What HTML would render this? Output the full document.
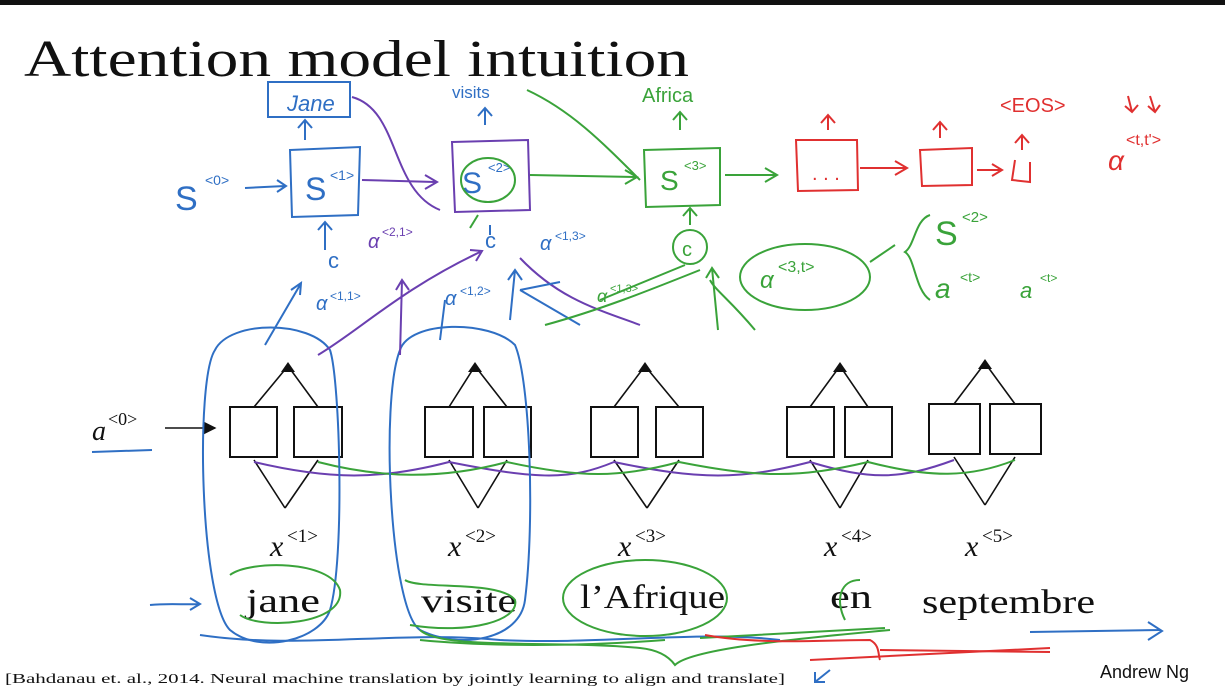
<!DOCTYPE html>
<html><head><meta charset="utf-8"><style>
html,body{margin:0;padding:0;background:#fff;}
svg{display:block}
</style></head><body>
<svg width="1225" height="689" viewBox="0 0 1225 689" xmlns="http://www.w3.org/2000/svg">
<rect x="0" y="0" width="1225" height="689" fill="#fff"/>
<rect x="0" y="0" width="1225" height="5" fill="#111"/>
<text x="24" y="76" font-family="Liberation Serif, serif" font-size="52" fill="#111" textLength="665" lengthAdjust="spacingAndGlyphs">Attention model intuition</text>

<defs>
<marker id="ab" markerWidth="8" markerHeight="8" refX="7" refY="4" orient="auto"><path d="M0,0 L8,4 L0,8 z" fill="#111"/></marker>
</defs>

<g fill="none" stroke="#111" stroke-width="2">
<rect x="230" y="407" width="47" height="50"/><rect x="294" y="407" width="48" height="50"/>
<rect x="425" y="407" width="48" height="50"/><rect x="484" y="407" width="47" height="50"/>
<rect x="591" y="407" width="47" height="50"/><rect x="656" y="407" width="47" height="50"/>
<rect x="787" y="407" width="47" height="50"/><rect x="845" y="407" width="47" height="50"/>
<rect x="929" y="404" width="51" height="50"/><rect x="990" y="404" width="51" height="50"/>
</g>
<g stroke="#111" stroke-width="1.6" fill="none">
<path d="M254 407 L288 366 M318 407 L288 366"/>
<path d="M449 407 L475 366 M507 407 L475 366"/>
<path d="M614 407 L645 366 M679 407 L645 366"/>
<path d="M810 407 L840 366 M868 407 L840 366"/>
<path d="M954 404 L985 363 M1015 404 L985 363"/>
<path d="M285 508 L254 460 M285 508 L318 460"/>
<path d="M478 508 L449 460 M478 508 L507 460"/>
<path d="M647 508 L614 460 M647 508 L679 460"/>
<path d="M840 508 L810 460 M840 508 L868 460"/>
<path d="M985 505 L954 457 M985 505 L1015 457"/>
<path d="M165 428 L215 428" marker-end="url(#ab)"/>
</g>
<g fill="#111"><path d="M281 372 L288 362 L295 372z"/><path d="M468 372 L475 362 L482 372z"/><path d="M638 372 L645 362 L652 372z"/><path d="M833 372 L840 362 L847 372z"/><path d="M978 369 L985 359 L992 369z"/></g>

<path d="M254 462 C330 480 380 480 449 462 C540 480 570 480 614 462 C700 480 740 480 810 462 C870 480 900 480 954 460" stroke="#6a3fb0" stroke-width="2" fill="none"/>
<path d="M318 462 C380 478 440 480 507 462 C580 478 620 478 679 462 C760 478 800 478 868 462 C930 478 970 478 1015 460" stroke="#3aa33a" stroke-width="2" fill="none"/>

<g font-family="Liberation Serif, serif" fill="#111">
<text x="92" y="440" font-size="28" font-style="italic">a</text><text x="108" y="425" font-size="18">&lt;0&gt;</text>
<text x="270" y="556" font-size="30" font-style="italic">x</text><text x="287" y="542" font-size="19">&lt;1&gt;</text>
<text x="448" y="556" font-size="30" font-style="italic">x</text><text x="465" y="542" font-size="19">&lt;2&gt;</text>
<text x="618" y="556" font-size="30" font-style="italic">x</text><text x="635" y="542" font-size="19">&lt;3&gt;</text>
<text x="824" y="556" font-size="30" font-style="italic">x</text><text x="841" y="542" font-size="19">&lt;4&gt;</text>
<text x="965" y="556" font-size="30" font-style="italic">x</text><text x="982" y="542" font-size="19">&lt;5&gt;</text>
<text x="246" y="612" font-size="34" textLength="74" lengthAdjust="spacingAndGlyphs">jane</text>
<text x="421" y="612" font-size="34" textLength="96" lengthAdjust="spacingAndGlyphs">visite</text>
<text x="580" y="608" font-size="34" textLength="145" lengthAdjust="spacingAndGlyphs">l’Afrique</text>
<text x="830" y="608" font-size="34" textLength="42" lengthAdjust="spacingAndGlyphs">en</text>
<text x="922" y="613" font-size="34" textLength="173" lengthAdjust="spacingAndGlyphs">septembre</text>
<text x="5" y="683" font-size="14" textLength="780" lengthAdjust="spacingAndGlyphs">[Bahdanau et. al., 2014. Neural machine translation by jointly learning to align and translate]</text>
</g>
<text x="1100" y="678" font-family="Liberation Sans, sans-serif" font-size="18" fill="#111">Andrew Ng</text>

<g stroke="#2f6fc4" stroke-width="2" fill="none">
<path d="M92 452 L152 450"/>
<path d="M150 605 C170 603 185 605 200 604 M190 598 L200 604 L190 610"/>
<path d="M1030 632 L1160 630 M1148 622 L1162 631 L1148 640"/>
<path d="M215 350 C195 380 200 600 230 630 C260 655 320 640 330 610 C345 560 340 380 330 350 C310 320 230 320 215 350z"/>
<path d="M400 350 C380 400 390 610 420 630 C460 650 520 640 525 600 C535 520 530 380 515 345 C490 320 410 320 400 350z"/>
<path d="M200 635 C300 650 400 630 500 640 C600 645 700 630 780 640"/>
<rect x="268" y="82" width="82" height="35"/>
<path d="M305 140 L305 120 M298 128 L305 120 L312 128"/>
<path d="M290 150 L360 147 L358 215 L292 217z"/>
<path d="M245 188 L285 186 M277 180 L286 186 L277 192"/>
<path d="M325 250 L325 222 M318 230 L325 222 L332 230"/>
<path d="M265 345 L300 285 M291 290 L301 283 L300 295"/>
<path d="M830 670 L815 682 M815 672 L815 682 L825 682"/>
</g>
<g font-family="Liberation Sans, sans-serif" fill="#2f6fc4">
<text x="287" y="111" font-size="22" font-style="italic">Jane</text>
<text x="175" y="210" font-size="34">S</text><text x="205" y="185" font-size="14">&lt;0&gt;</text>
<text x="305" y="200" font-size="32">S</text><text x="330" y="180" font-size="14">&lt;1&gt;</text>
<text x="328" y="268" font-size="22">c</text>
<text x="316" y="310" font-size="20" font-style="italic">α</text><text x="330" y="300" font-size="12">&lt;1,1&gt;</text>
</g>

<g stroke="#6a3fb0" stroke-width="2" fill="none">
<path d="M452 142 L528 140 L530 210 L455 212z"/>
<path d="M362 180 L435 182 M425 175 L437 182 L425 189"/>
<path d="M352 97 C400 110 390 190 440 210"/>
<path d="M318 355 C360 330 400 290 480 252 M470 250 L482 251 L476 261"/>
<path d="M400 355 L402 280 M396 290 L402 280 L409 290"/>
<path d="M520 258 C560 300 600 310 640 325"/>
<text x="368" y="248" font-family="Liberation Sans, sans-serif" font-size="20" font-style="italic" fill="#6a3fb0" stroke="none">α</text>
<text x="382" y="236" font-family="Liberation Sans, sans-serif" font-size="12" fill="#6a3fb0" stroke="none">&lt;2,1&gt;</text>
</g>
<g font-family="Liberation Sans, sans-serif" fill="#2f6fc4">
<text x="452" y="98" font-size="17">visits</text>
<text x="445" y="305" font-size="20" font-style="italic">α</text><text x="460" y="295" font-size="12">&lt;1,2&gt;</text>
<text x="540" y="250" font-size="20" font-style="italic">α</text><text x="555" y="240" font-size="12">&lt;1,3&gt;</text>
<text x="485" y="248" font-size="22">c</text>
</g>
<g stroke="#2f6fc4" stroke-width="2" fill="none">
<path d="M485 125 L485 108 M478 116 L485 108 L492 116"/>
<path d="M440 340 L445 300"/><path d="M510 320 L515 270 M508 280 L515 270 L522 280"/>
<path d="M490 235 L490 225"/>
<path d="M520 290 L580 325 M520 290 L560 282"/>
</g>
<text x="462" y="193" font-family="Liberation Sans, sans-serif" font-size="30" fill="#2f6fc4">S</text>
<text x="488" y="172" font-family="Liberation Sans, sans-serif" font-size="13" fill="#2f6fc4">&lt;2&gt;</text>

<g stroke="#3aa33a" stroke-width="2" fill="none">
<ellipse cx="488" cy="180" rx="27" ry="22"/>
<path d="M470 228 L478 215"/>
<path d="M527 90 C570 110 600 140 640 180 M530 175 L635 177 M625 170 L637 177 L625 184"/>
<path d="M644 150 L720 148 L720 205 L646 207z"/>
<path d="M680 130 L680 112 M673 120 L680 112 L687 120"/>
<path d="M725 175 L775 175 M765 168 L777 175 L765 182"/>
<circle cx="690" cy="247" r="17"/>
<path d="M690 225 L690 208 M683 216 L690 208 L697 216"/>
<path d="M545 325 C600 310 650 290 700 270"/>
<path d="M600 300 L685 265"/>
<path d="M718 330 L712 268 M706 278 L712 268 L719 278"/>
<path d="M755 330 C730 300 715 290 710 280"/>
<ellipse cx="805" cy="277" rx="65" ry="33"/>
<path d="M870 262 L895 245"/>
<path d="M930 215 C915 220 915 245 905 252 C915 258 915 290 930 300"/>
<path d="M230 575 C250 560 330 560 340 590 C345 625 260 630 240 615"/>
<path d="M405 580 C420 590 500 580 515 600 C520 620 470 635 410 625"/>
<ellipse cx="645" cy="598" rx="82" ry="38"/>
<path d="M860 580 C840 580 835 600 845 620"/>
<path d="M420 630 C440 650 560 640 640 648 C660 650 670 658 675 665 C690 650 780 640 890 630"/>
<path d="M420 640 C500 648 600 645 665 640 M700 638 L885 628"/>
</g>
<g font-family="Liberation Sans, sans-serif" fill="#3aa33a">
<text x="642" y="102" font-size="20">Africa</text>
<text x="660" y="190" font-size="28">S</text><text x="684" y="170" font-size="13">&lt;3&gt;</text>
<text x="682" y="256" font-size="20">c</text>
<text x="597" y="302" font-size="18" font-style="italic">α</text><text x="610" y="292" font-size="11">&lt;1,3&gt;</text>
<text x="760" y="288" font-size="24" font-style="italic">α</text><text x="778" y="272" font-size="16">&lt;3,t&gt;</text>
<text x="935" y="245" font-size="34">S</text><text x="962" y="222" font-size="15">&lt;2&gt;</text>
<text x="935" y="298" font-size="28" font-style="italic">a</text><text x="960" y="282" font-size="14">&lt;t&gt;</text>
<text x="1020" y="298" font-size="22" font-style="italic">a</text><text x="1040" y="282" font-size="12">&lt;t&gt;</text>
</g>

<g stroke="#e03030" stroke-width="2" fill="none">
<path d="M796 140 L857 140 L858 190 L798 191z"/>
<path d="M828 130 L828 115 M821 123 L828 115 L835 123"/>
<path d="M860 168 L905 168 M895 161 L907 168 L895 175"/>
<path d="M920 150 L972 148 L972 185 L922 186z"/>
<path d="M940 138 L940 122 M933 130 L940 122 L947 130"/>
<path d="M977 170 L1000 170 M992 164 L1002 170 L992 176"/>
<path d="M1015 160 L1012 180 L1030 182 L1030 162"/>
<path d="M1022 150 L1022 135 M1015 143 L1022 135 L1029 143"/>
<path d="M1128 96 L1132 112 M1125 106 L1132 112 L1138 105"/>
<path d="M1150 96 L1155 112 M1148 106 L1155 112 L1160 105"/>
<path d="M705 635 C760 645 820 640 870 640 C880 645 878 655 880 660 M880 650 L1050 652"/>
<path d="M810 660 L1050 648"/>
</g>
<g font-family="Liberation Sans, sans-serif" fill="#e03030">
<text x="812" y="180" font-size="20">. . .</text>
<text x="1000" y="112" font-size="20">&lt;EOS&gt;</text>
<text x="1108" y="170" font-size="28" font-style="italic">α</text><text x="1126" y="145" font-size="16">&lt;t,t'&gt;</text>
</g>
</svg>
</body></html>
